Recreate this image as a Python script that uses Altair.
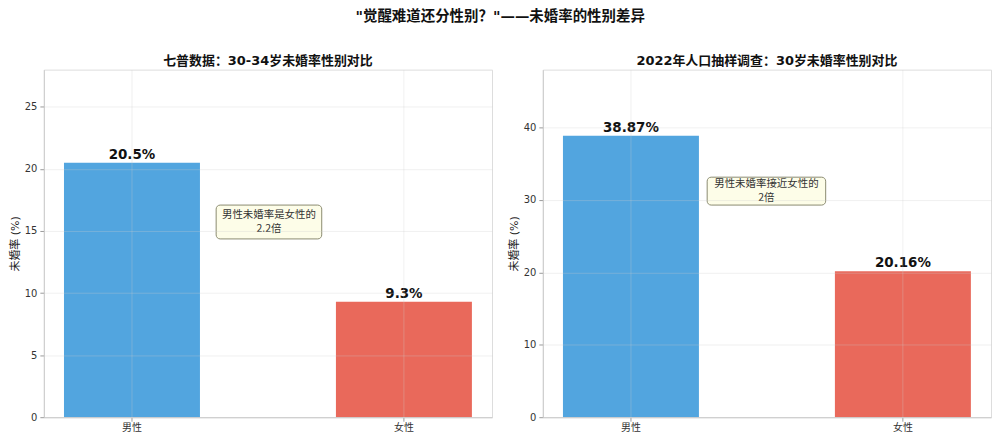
import altair as alt
import pandas as pd

categories = ["男性", "女性"]
census_values = [20.5, 9.3]
survey_values = [38.87, 20.16]
census_labels = ["20.5%", "9.3%"]
survey_labels = ["38.87%", "20.16%"]
bar_colors = ["#52a5df", "#e9695b"]
main_title = '"觉醒难道还分性别？"——未婚率的性别差异'
panel_titles = ["七普数据：30-34岁未婚率性别对比", "2022年人口抽样调查：30岁未婚率性别对比"]
note_lines = [["男性未婚率是女性的", "2.2倍"], ["男性未婚率接近女性的", "2倍"]]
y_max = [28, 48]
y_ticks = [[0, 5, 10, 15, 20, 25], [0, 10, 20, 30, 40]]
y_title = "未婚率 (%)"

FONT = "DejaVu Sans, Noto Sans CJK SC"
CJK = "Noto Sans CJK SC"
W, H = 450, 349


def panel(values, labels, title, note, ymax, ticks, box):
    df = pd.DataFrame({"cat": categories, "val": values, "label": labels, "color": bar_colors})
    xscale = alt.Scale(paddingInner=0.5, paddingOuter=0.074)
    x = alt.X(
        "cat:N", sort=categories, scale=xscale,
        axis=alt.Axis(title=None, labelAngle=0, bandPosition=0.5, grid=True,
                      gridColor="#cccccc", gridOpacity=0.3, domainColor="#cccccc",
                      tickColor="#999999", tickSize=4, labelFontSize=10, labelColor="#333333",
                      labelFont=CJK, labelPadding=1, zindex=1),
    )
    y = alt.Y(
        "val:Q", scale=alt.Scale(domain=[0, ymax], nice=False),
        axis=alt.Axis(title=y_title, values=ticks, grid=True, gridColor="#cccccc",
                      gridOpacity=0.3, domainColor="#cccccc", tickColor="#999999",
                      tickSize=4, labelFontSize=10, labelColor="#333333", labelPadding=3,
                      labelFont=FONT, titleFont=FONT,
                      titleFontSize=11, titleFontWeight="normal", titleColor="#222222",
                      titlePadding=4, zindex=1),
    )
    bars = alt.Chart(df).mark_bar().encode(
        x=x, y=y, color=alt.Color("color:N", scale=None)
    )
    text = alt.Chart(df).mark_text(
        baseline="bottom", dy=-1, fontSize=13.5, fontWeight="bold", font=FONT, color="#111111"
    ).encode(
        x=alt.X("cat:N", sort=categories, scale=xscale),
        y=alt.Y("val:Q"),
        text="label:N",
    )
    nd = pd.DataFrame({"k": [0]})
    rect = alt.Chart(nd).mark_rect(
        fill="#fdfde8", stroke="#8a8a70", strokeWidth=1, cornerRadius=4
    ).encode(
        x=alt.value(box[0]), x2=alt.value(box[1]),
        y=alt.value(box[2]), y2=alt.value(box[3]),
    )
    ntext = alt.Chart(nd).mark_text(
        fontSize=10.5, font=CJK, color="#333333", lineHeight=14, baseline="middle"
    ).encode(
        x=alt.value((box[0] + box[1]) / 2),
        y=alt.value((box[2] + box[3]) / 2 - 7),
        text=alt.value(note),
    )
    return alt.layer(bars, text, rect, ntext).properties(
        width=W, height=H,
        title=alt.TitleParams(title, fontSize=13, fontWeight="bold", font=FONT,
                              color="#111111", offset=2),
    )


left = panel(census_values, census_labels, panel_titles[0], note_lines[0], y_max[0],
             y_ticks[0], (173, 279, 136, 170))
right = panel(survey_values, survey_labels, panel_titles[1], note_lines[1], y_max[1],
              y_ticks[1], (165, 284, 108, 136))

chart = alt.hconcat(left, right, spacing=14).properties(
    title=alt.TitleParams(main_title, fontSize=14.5, fontWeight="bold", font=FONT,
                          color="#111111", anchor="middle", offset=30),
    background="white",
    padding=0,
).configure_view(stroke=None).configure(font=FONT)

chart.save("out.html", embed_options={"renderer": "svg", "actions": False})
